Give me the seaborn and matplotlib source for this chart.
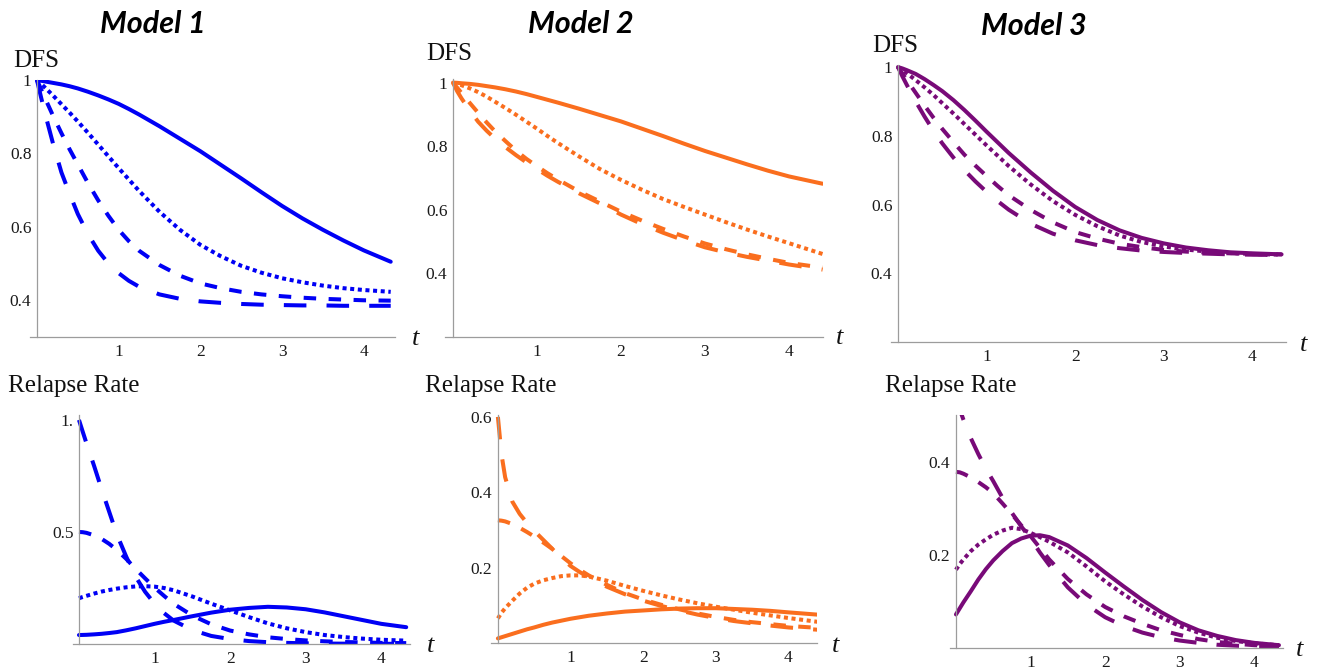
import pandas as pd
import seaborn as sns
import matplotlib.pyplot as plt

# ==================== data ====================
# time grid, years
T = [0, 0.05, 0.1, 0.2, 0.3, 0.4, 0.5, 0.625, 0.75, 0.875, 1, 1.125, 1.25,
     1.5, 1.75, 2, 2.25, 2.5, 2.75, 3, 3.25, 3.5, 3.75, 4, 4.33]
T2 = [0, 0.05, 0.1, 0.2, 0.3, 0.4, 0.5, 0.625, 0.75, 0.875, 1, 1.125, 1.25,
      1.5, 1.75, 2, 2.25, 2.5, 2.75, 3, 3.25, 3.5, 3.75, 4, 4.4]

MODELS = ["Model 1", "Model 2", "Model 3"]
CURVES = ["solid", "dotted", "dashed", "longdash"]

# Model 1 - DFS
m1_dfs_solid = [1.0, 0.998, 0.996, 0.992, 0.988, 0.983, 0.977, 0.968, 0.958, 0.947, 0.935, 0.921, 0.906, 0.874, 0.840, 0.806, 0.769, 0.732, 0.694, 0.657, 0.623, 0.592, 0.563, 0.536, 0.505]
m1_dfs_dotted = [1.0, 0.990, 0.979, 0.957, 0.934, 0.911, 0.887, 0.856, 0.824, 0.792, 0.760, 0.729, 0.698, 0.641, 0.592, 0.551, 0.520, 0.494, 0.475, 0.460, 0.449, 0.440, 0.433, 0.428, 0.423]
m1_dfs_dashed = [1.0, 0.975, 0.950, 0.901, 0.855, 0.811, 0.770, 0.719, 0.672, 0.630, 0.592, 0.561, 0.535, 0.496, 0.467, 0.446, 0.433, 0.423, 0.416, 0.411, 0.407, 0.404, 0.402, 0.400, 0.399]
m1_dfs_longdash = [1.0, 0.953, 0.908, 0.824, 0.748, 0.690, 0.635, 0.580, 0.535, 0.500, 0.474, 0.453, 0.437, 0.416, 0.404, 0.397, 0.393, 0.390, 0.388, 0.387, 0.386, 0.386, 0.385, 0.385, 0.385]
# Model 1 - relapse rate
m1_rate_solid = [0.040, 0.0405, 0.041, 0.043, 0.0455, 0.049, 0.053, 0.061, 0.070, 0.080, 0.090, 0.099, 0.107, 0.124, 0.140, 0.153, 0.161, 0.166, 0.163, 0.155, 0.141, 0.124, 0.107, 0.090, 0.075]
m1_rate_dotted = [0.204, 0.210, 0.215, 0.225, 0.234, 0.241, 0.247, 0.253, 0.257, 0.258, 0.256, 0.250, 0.240, 0.212, 0.180, 0.150, 0.120, 0.092, 0.070, 0.053, 0.040, 0.031, 0.024, 0.019, 0.015]
m1_rate_dashed = [0.500, 0.499, 0.496, 0.485, 0.469, 0.447, 0.420, 0.380, 0.335, 0.293, 0.252, 0.215, 0.180, 0.127, 0.088, 0.060, 0.043, 0.030, 0.022, 0.016, 0.012, 0.009, 0.007, 0.005, 0.004]
m1_rate_longdash = [1.000, 0.947, 0.895, 0.795, 0.690, 0.590, 0.490, 0.390, 0.300, 0.233, 0.180, 0.138, 0.105, 0.062, 0.036, 0.022, 0.013, 0.008, 0.005, 0.003, 0.002, 0.0015, 0.001, 0.001, 0.0005]

# Model 2 - DFS
m2_dfs_solid = [1.0, 0.9993, 0.998, 0.996, 0.993, 0.989, 0.985, 0.979, 0.972, 0.964, 0.955, 0.946, 0.937, 0.918, 0.898, 0.878, 0.855, 0.832, 0.808, 0.785, 0.764, 0.743, 0.723, 0.705, 0.682]
m2_dfs_dotted = [1.0, 0.996, 0.992, 0.982, 0.970, 0.956, 0.940, 0.920, 0.899, 0.877, 0.855, 0.832, 0.810, 0.768, 0.728, 0.694, 0.663, 0.634, 0.609, 0.585, 0.561, 0.538, 0.516, 0.495, 0.461]
m2_dfs_dashed = [1.0, 0.984, 0.968, 0.936, 0.905, 0.875, 0.847, 0.816, 0.786, 0.760, 0.737, 0.715, 0.695, 0.658, 0.626, 0.594, 0.566, 0.540, 0.516, 0.494, 0.476, 0.460, 0.446, 0.433, 0.418]
m2_dfs_longdash = [1.0, 0.973, 0.951, 0.912, 0.877, 0.849, 0.824, 0.797, 0.772, 0.749, 0.728, 0.707, 0.688, 0.652, 0.620, 0.585, 0.555, 0.528, 0.504, 0.482, 0.466, 0.452, 0.440, 0.428, 0.412]
# Model 2 - relapse rate
m2_rate_solid = [0.013, 0.016, 0.019, 0.025, 0.031, 0.037, 0.042, 0.049, 0.055, 0.060, 0.065, 0.069, 0.073, 0.079, 0.084, 0.087, 0.090, 0.092, 0.093, 0.093, 0.091, 0.089, 0.086, 0.082, 0.076]
m2_rate_dotted = [0.066, 0.081, 0.093, 0.113, 0.132, 0.147, 0.158, 0.167, 0.173, 0.178, 0.180, 0.180, 0.177, 0.166, 0.152, 0.139, 0.127, 0.116, 0.106, 0.097, 0.089, 0.081, 0.074, 0.067, 0.057]
m2_rate_dashed = [0.326, 0.325, 0.323, 0.316, 0.306, 0.295, 0.283, 0.267, 0.250, 0.231, 0.212, 0.195, 0.180, 0.155, 0.133, 0.116, 0.102, 0.090, 0.079, 0.070, 0.062, 0.056, 0.051, 0.046, 0.041]
m2_rate_longdash = [0.600, 0.500, 0.440, 0.375, 0.343, 0.319, 0.298, 0.274, 0.250, 0.226, 0.205, 0.189, 0.175, 0.150, 0.130, 0.113, 0.099, 0.087, 0.076, 0.067, 0.059, 0.053, 0.047, 0.042, 0.036]

# Model 3 - DFS
m3_dfs_solid = [1.0, 0.996, 0.991, 0.980, 0.965, 0.948, 0.930, 0.904, 0.875, 0.844, 0.812, 0.781, 0.750, 0.693, 0.640, 0.593, 0.555, 0.525, 0.503, 0.487, 0.475, 0.467, 0.461, 0.458, 0.455]
m3_dfs_dotted = [1.0, 0.991, 0.982, 0.962, 0.941, 0.919, 0.895, 0.865, 0.834, 0.803, 0.772, 0.742, 0.712, 0.658, 0.610, 0.570, 0.537, 0.510, 0.491, 0.478, 0.469, 0.463, 0.459, 0.456, 0.454]
m3_dfs_dashed = [1.0, 0.981, 0.962, 0.925, 0.888, 0.853, 0.820, 0.782, 0.745, 0.713, 0.683, 0.654, 0.627, 0.584, 0.548, 0.520, 0.501, 0.486, 0.476, 0.468, 0.463, 0.460, 0.458, 0.456, 0.455]
m3_dfs_longdash = [1.0, 0.973, 0.948, 0.900, 0.856, 0.815, 0.778, 0.737, 0.700, 0.667, 0.637, 0.610, 0.585, 0.544, 0.515, 0.496, 0.482, 0.473, 0.466, 0.462, 0.459, 0.457, 0.455, 0.454, 0.453]
# Model 3 - relapse rate
m3_rate_solid = [0.072, 0.085, 0.098, 0.122, 0.147, 0.169, 0.188, 0.208, 0.225, 0.235, 0.241, 0.242, 0.238, 0.220, 0.193, 0.162, 0.132, 0.103, 0.077, 0.055, 0.038, 0.026, 0.017, 0.011, 0.006]
m3_rate_dotted = [0.168, 0.180, 0.190, 0.208, 0.222, 0.233, 0.243, 0.252, 0.258, 0.255, 0.247, 0.238, 0.228, 0.205, 0.175, 0.143, 0.115, 0.089, 0.066, 0.047, 0.033, 0.022, 0.015, 0.010, 0.006]
m3_rate_dashed = [0.378, 0.377, 0.374, 0.366, 0.356, 0.345, 0.332, 0.310, 0.287, 0.263, 0.240, 0.215, 0.190, 0.148, 0.115, 0.088, 0.068, 0.052, 0.038, 0.028, 0.019, 0.013, 0.009, 0.006, 0.004]
m3_rate_longdash = [0.535, 0.512, 0.490, 0.450, 0.416, 0.385, 0.358, 0.322, 0.290, 0.261, 0.235, 0.205, 0.178, 0.130, 0.093, 0.066, 0.047, 0.033, 0.023, 0.016, 0.011, 0.007, 0.005, 0.003, 0.002]

X_TICKS = [1, 2, 3, 4]
DFS_TICKS = [0.4, 0.6, 0.8, 1.0]
DFS_TICKLABELS = ["0.4", "0.6", "0.8", "1"]
RATE_TICKS = {"Model 1": [0.5, 1.0], "Model 2": [0.2, 0.4, 0.6], "Model 3": [0.2, 0.4]}
RATE_TICKLABELS = {"Model 1": ["0.5", "1."], "Model 2": ["0.2", "0.4", "0.6"], "Model 3": ["0.2", "0.4"]}

SERIES = {
    ("Model 1", "dfs"): (T, [m1_dfs_solid, m1_dfs_dotted, m1_dfs_dashed, m1_dfs_longdash]),
    ("Model 1", "rate"): (T, [m1_rate_solid, m1_rate_dotted, m1_rate_dashed, m1_rate_longdash]),
    ("Model 2", "dfs"): (T2, [m2_dfs_solid, m2_dfs_dotted, m2_dfs_dashed, m2_dfs_longdash]),
    ("Model 2", "rate"): (T2, [m2_rate_solid, m2_rate_dotted, m2_rate_dashed, m2_rate_longdash]),
    ("Model 3", "dfs"): (T, [m3_dfs_solid, m3_dfs_dotted, m3_dfs_dashed, m3_dfs_longdash]),
    ("Model 3", "rate"): (T, [m3_rate_solid, m3_rate_dotted, m3_rate_dashed, m3_rate_longdash]),
}

# ==================== style / layout ====================
W, H = 1318, 670
COLORS = {"Model 1": "#0000F5", "Model 2": "#FA6E1E", "Model 3": "#780A78"}
DASHES = {"solid": "", "dotted": (1.0, 0.9), "dashed": (3.1, 3.1), "longdash": (5.6, 5.0)}
AXIS_GRAY = "#9C9C9C"
SERIF = "Liberation Serif"

# pixel box (left, right, top, bottom) and data limits of each panel
LAYOUT = {
    ("Model 1", "dfs"): dict(box=(29.6, 394.8, 80, 337), xlim=(-0.09, 4.38), ylim=(0.3, 1.0)),
    ("Model 2", "dfs"): dict(box=(445, 822.6, 78.8, 337), xlim=(-0.095, 4.40), ylim=(0.2, 1.012)),
    ("Model 3", "dfs"): dict(box=(890.7, 1286, 65, 342), xlim=(-0.082, 4.38), ylim=(0.2, 1.006)),
    ("Model 1", "rate"): dict(box=(72.7, 410, 415, 644), xlim=(-0.083, 4.38), ylim=(0, 1.022)),
    ("Model 2", "rate"): dict(box=(491, 816.7, 415, 643.3), xlim=(-0.095, 4.39), ylim=(0, 0.605)),
    ("Model 3", "rate"): dict(box=(950, 1282.7, 415, 648), xlim=(-0.08, 4.38), ylim=(0, 0.50)),
}
TITLE_POS = {"Model 1": (153, 24), "Model 2": (581, 24), "Model 3": (1034, 26)}
YLABEL_POS = {
    ("Model 1", "dfs"): (13, 67), ("Model 2", "dfs"): (426, 60), ("Model 3", "dfs"): (872, 52),
    ("Model 1", "rate"): (8, 392), ("Model 2", "rate"): (425, 392), ("Model 3", "rate"): (885, 392),
}
TLABEL_POS = {
    ("Model 1", "dfs"): (412, 345), ("Model 2", "dfs"): (836, 344), ("Model 3", "dfs"): (1300, 351),
    ("Model 1", "rate"): (427, 652), ("Model 2", "rate"): (832, 652), ("Model 3", "rate"): (1296, 656),
}

sns.set_theme(style="white")
plt.rcParams["font.family"] = [SERIF, "DejaVu Serif"]

fig = plt.figure(figsize=(W / 100, H / 100), dpi=100)


def px_rect(box):
    l, r, t, b = box
    return [l / W, 1 - b / H, (r - l) / W, (b - t) / H]


for (model, kind), lay in LAYOUT.items():
    ax = fig.add_axes(px_rect(lay["box"]))
    ax.patch.set_alpha(0)
    t, curves = SERIES[(model, kind)]
    df = pd.concat([pd.DataFrame({"t": t, "value": v, "curve": name})
                    for name, v in zip(CURVES, curves)], ignore_index=True)
    sns.lineplot(data=df, x="t", y="value", style="curve", dashes=DASHES,
                 color=COLORS[model], linewidth=2.9, errorbar=None,
                 legend=False, ax=ax)

    ax.set_xlim(lay["xlim"])
    ax.set_ylim(lay["ylim"])
    ax.set_xlabel("")
    ax.set_ylabel("")
    ax.set_xticks(X_TICKS)
    ax.set_xticklabels([str(x) for x in X_TICKS])
    if kind == "dfs":
        ax.set_yticks(DFS_TICKS)
        ax.set_yticklabels(DFS_TICKLABELS)
    else:
        ax.set_yticks(RATE_TICKS[model])
        ax.set_yticklabels(RATE_TICKLABELS[model])

    for side in ("top", "right"):
        ax.spines[side].set_visible(False)
    ax.spines["left"].set_position(("data", 0))
    for side in ("left", "bottom"):
        ax.spines[side].set_color(AXIS_GRAY)
        ax.spines[side].set_linewidth(0.9)
    ax.tick_params(axis="both", direction="in", length=3.5, width=0.8,
                   color=AXIS_GRAY, labelsize=12.5, labelcolor="#1a1a1a", pad=4)
    ax.tick_params(axis="x", pad=5)
    ax.grid(False)

    label = "DFS" if kind == "dfs" else "Relapse Rate"
    lx, ly = YLABEL_POS[(model, kind)]
    fig.text(lx / W, 1 - ly / H, label, fontsize=18, family=SERIF,
             ha="left", va="baseline", color="#111111")
    tx, ty = TLABEL_POS[(model, kind)]
    fig.text(tx / W, 1 - ty / H, "t", fontsize=19, family=SERIF, style="italic",
             ha="left", va="baseline", color="#111111")

for model in MODELS:
    x, y = TITLE_POS[model]
    fig.text(x / W, 1 - y / H, model, fontsize=22, family=["Lato", "Open Sans", "DejaVu Sans"],
             fontweight="bold", style="italic", ha="center", va="center", color="black")

fig.savefig("out.png", dpi=100, facecolor="white")
